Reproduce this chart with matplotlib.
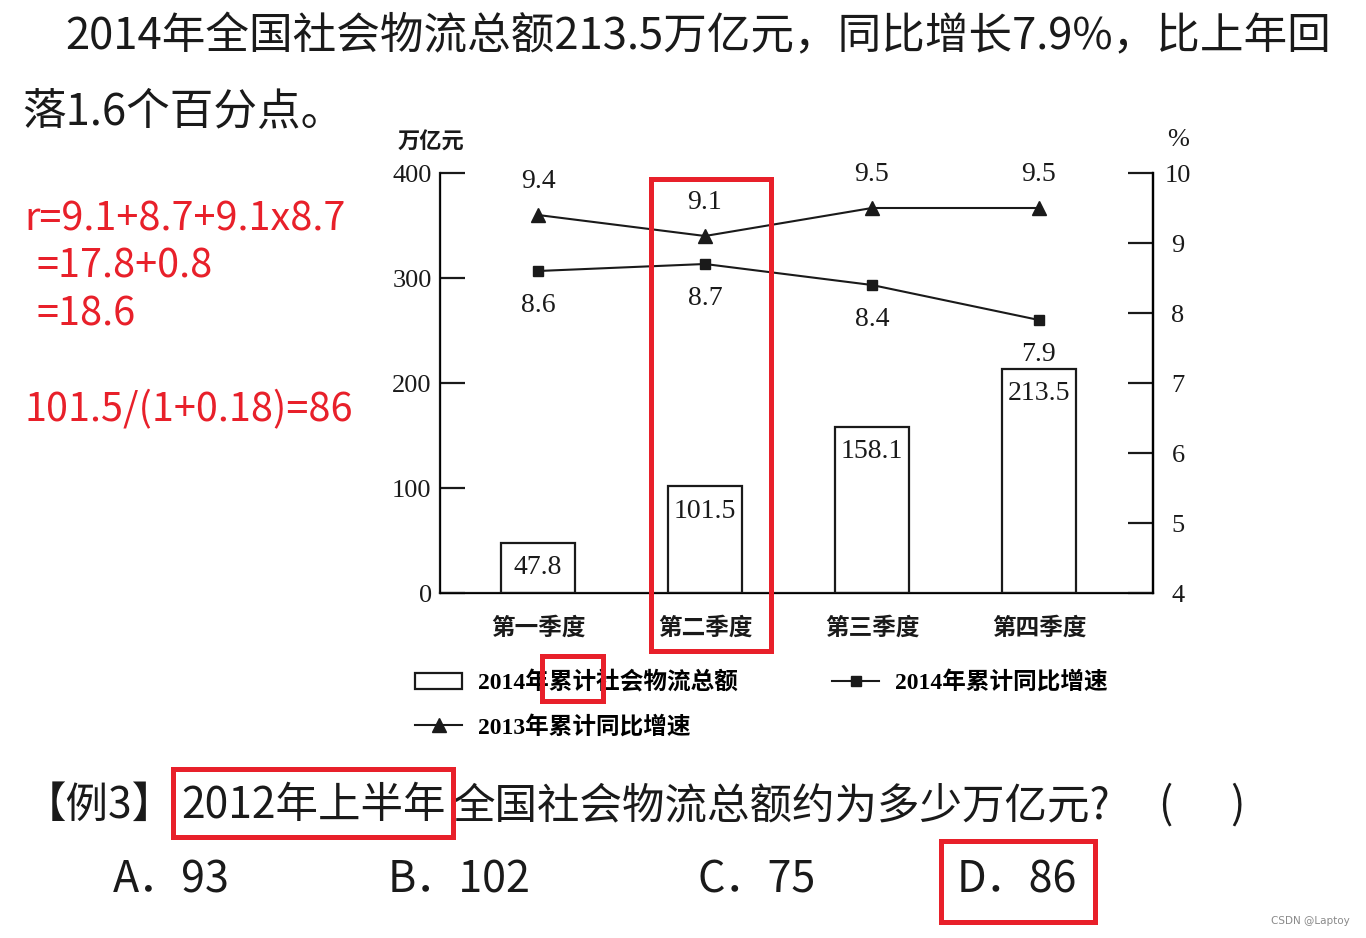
import matplotlib
matplotlib.use("Agg")
import matplotlib.pyplot as plt
import numpy as np
from matplotlib.patches import Rectangle
from matplotlib.lines import Line2D

quarters = ["第一季度", "第二季度", "第三季度", "第四季度"]
total_2014 = [47.8, 101.5, 158.1, 213.5]
growth_2014 = [8.6, 8.7, 8.4, 7.9]
growth_2013 = [9.4, 9.1, 9.5, 9.5]
left_ticks = [0, 100, 200, 300, 400]
right_ticks = [4, 5, 6, 7, 8, 9, 10]

W, H = 1366, 938
CJK = ["Noto Sans CJK SC", "DejaVu Sans"]
SERIF = ["Liberation Serif", "Noto Sans CJK SC"]
RED = "#e8202a"
INK = "#1a1a1a"


def px(x, y):
    return x / W, 1 - y / H


def red_box(x0, y0, x1, y1):
    fig.patches.append(Rectangle(px(x0, y1), (x1 - x0) / W, (y1 - y0) / H,
                                 transform=fig.transFigure, fill=False,
                                 edgecolor=RED, linewidth=3.6, zorder=10))


fig = plt.figure(figsize=(W / 100, H / 100), dpi=100)

# chart
ax = fig.add_axes([440 / W, 1 - 593 / H, 713 / W, 420 / H])
x = np.arange(len(quarters))
bars = ax.bar(x, total_2014, width=0.443, facecolor="white", edgecolor=INK, linewidth=1.6)
for xi, v in zip(x, total_2014):
    ax.annotate(f"{v}", (xi, v), xytext=(0, -18), textcoords="offset points",
                ha="center", va="center", family=SERIF, fontsize=20, color=INK)
ax.set_xlim(-0.587, 3.683)
ax.set_ylim(0, 400)
ax.set_yticks(left_ticks)
ax.set_xticks(x, quarters)
for lab in ax.get_xticklabels():
    lab.set_family(CJK)
    lab.set_fontsize(17)
    lab.set_fontweight("bold")
for lab in ax.get_yticklabels():
    lab.set_family(SERIF)
    lab.set_fontsize(19)
ax.tick_params(axis="y", direction="in", length=18, width=1.6, pad=6, colors=INK)
ax.tick_params(axis="x", length=0, pad=16, colors=INK)
ax.spines["top"].set_visible(False)
for s in ("left", "bottom", "right"):
    ax.spines[s].set_linewidth(1.6)
    ax.spines[s].set_color(INK)

ax2 = ax.twinx()
ax2.plot(x, growth_2013, color=INK, linewidth=1.5, marker="^", markersize=10)
ax2.plot(x, growth_2014, color=INK, linewidth=1.5, marker="s", markersize=7)
for xi, v in zip(x, growth_2013):
    ax2.annotate(f"{v}", (xi, v), xytext=(0, 24), textcoords="offset points",
                 ha="center", va="center", family=SERIF, fontsize=20, color=INK)
for xi, v in zip(x, growth_2014):
    ax2.annotate(f"{v}", (xi, v), xytext=(0, -25), textcoords="offset points",
                 ha="center", va="center", family=SERIF, fontsize=20, color=INK)
ax2.set_ylim(4, 10)
ax2.set_yticks(right_ticks)
for lab in ax2.get_yticklabels():
    lab.set_family(SERIF)
    lab.set_fontsize(19)
    lab.set_horizontalalignment("center")
ax2.tick_params(axis="y", direction="in", length=18, width=1.6, pad=18, colors=INK)
ax2.spines["top"].set_visible(False)
ax2.spines["right"].set_linewidth(1.6)

fig.text(*px(431, 142), "万亿元", family=CJK, fontsize=16, fontweight="bold",
         ha="center", va="center", color=INK)
fig.text(*px(1178, 140), "%", family=SERIF, fontsize=19, ha="center", va="center", color=INK)

# legend
h_bar = Rectangle((0, 0), 1, 1, facecolor="white", edgecolor=INK, linewidth=1.6)
h_tri = Line2D([], [], color=INK, linewidth=1.5, marker="^", markersize=10)
h_sq = Line2D([], [], color=INK, linewidth=1.5, marker="s", markersize=7)
leg_kw = dict(frameon=False, borderpad=0, borderaxespad=0, handlelength=2.0,
              handletextpad=0.65, labelspacing=0.9, numpoints=1,
              prop=dict(family=SERIF, size=17, weight="bold"))
fig.legend([h_bar, h_tri], ["2014年累计社会物流总额", "2013年累计同比增速"],
           loc="upper left", bbox_to_anchor=px(415, 671), **leg_kw)
fig.legend([h_sq], ["2014年累计同比增速"], loc="upper left",
           bbox_to_anchor=px(832, 671), **leg_kw)

# surrounding text
fig.text(*px(65, 37), "2014年全国社会物流总额213.5万亿元，同比增长7.9%，比上年回",
         family=CJK, fontsize=31.4, ha="left", va="center", color=INK)
fig.text(*px(22, 112), "落1.6个百分点。", family=CJK, fontsize=31.4,
         ha="left", va="center", color=INK)

for tx, ty, t in [(24, 219, "r=9.1+8.7+9.1x8.7"), (37, 267, "=17.8+0.8"),
                  (37, 314, "=18.6"), (24, 410, "101.5/(1+0.18)=86")]:
    fig.text(*px(tx, ty), t, family=CJK, fontsize=28.5, ha="left", va="center", color=RED)

for tx, t in [(24, "【例3】"), (181, "2012年上半年"), (453, "全国社会物流总额约为多少万亿元?")]:
    fig.text(*px(tx, 806), t, family=CJK, fontsize=30.6, ha="left", va="center", color=INK)
fig.text(*px(1158, 806), "(", family=CJK, fontsize=30.6, ha="left", va="center", color=INK)
fig.text(*px(1245, 806), ")", family=CJK, fontsize=30.6, ha="right", va="center", color=INK)

options = ["A．93", "B．102", "C．75", "D．86"]
opt_x = [113, 388, 697, 957]
for ox, o in zip(opt_x, options):
    fig.text(*px(ox, 880), o, family=CJK, fontsize=31, ha="left", va="center", color=INK)

fig.text(*px(1350, 921), "CSDN @Laptoy", family="DejaVu Sans", fontsize=7.5,
         ha="right", va="center", color="#8a8a8a")

# red annotation boxes
red_box(651, 179, 771, 651)
red_box(542, 656, 603, 701)
red_box(173, 769, 453, 837)
red_box(941, 841, 1095, 922)

fig.savefig("out.png", dpi=100, facecolor="white")
